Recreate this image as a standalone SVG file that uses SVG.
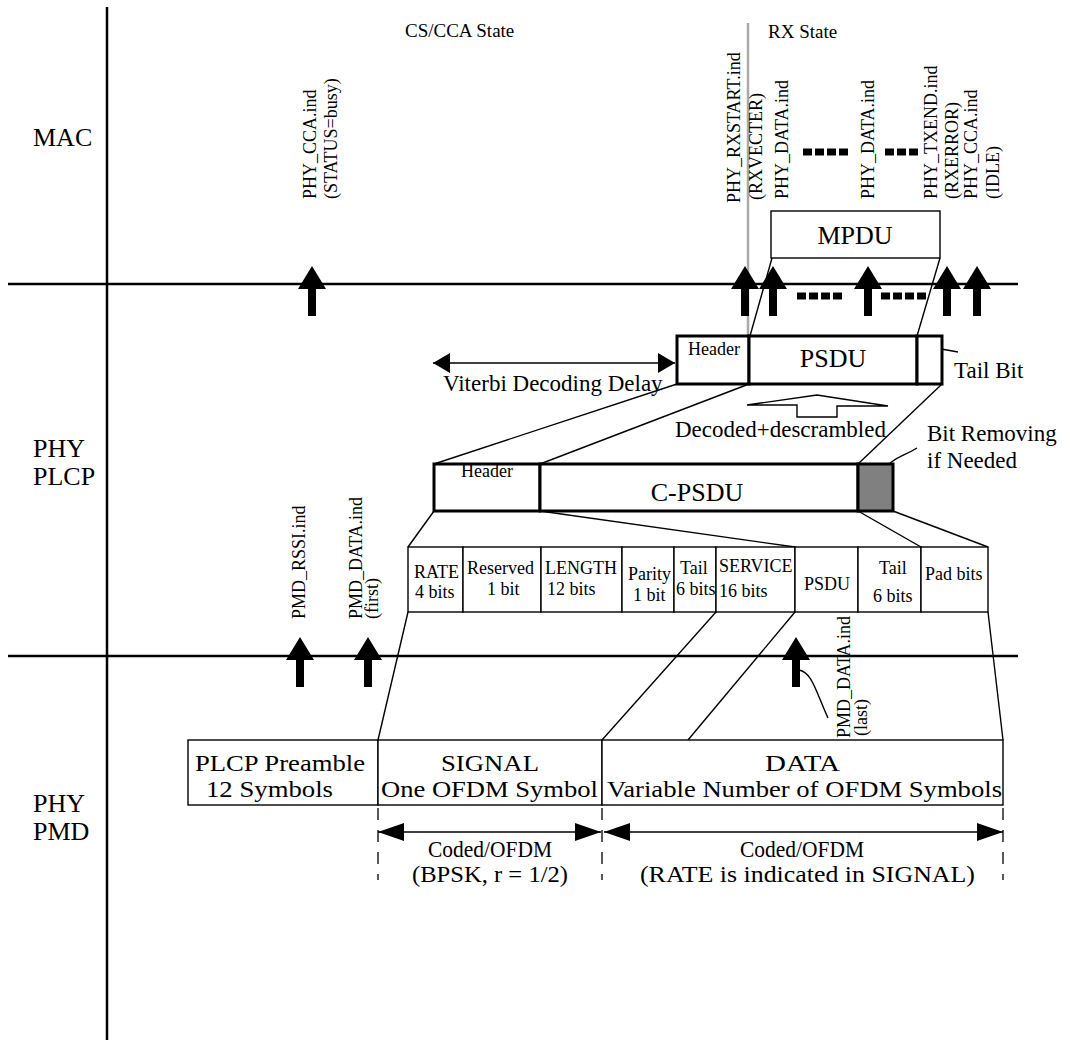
<svg xmlns="http://www.w3.org/2000/svg" xmlns:xlink="http://www.w3.org/1999/xlink" width="1070" height="1042" viewBox="0 0 1070 1042">
<style>
.t{font-family:"Liberation Serif","Times New Roman",serif;fill:#000}
.s18{font-size:18px}
.s19{font-size:19px}
.s23{font-size:23px}
.s24{font-size:24px}
.s26{font-size:26px}
.axis{stroke:#000;stroke-width:2.5;fill:none}
.ln{stroke:#000;stroke-width:1.4;fill:none}
.box{fill:#fff;stroke:#000;stroke-width:1.4}
.tbox{fill:#fff;stroke:#000;stroke-width:3}
.dots{stroke:#000;stroke-width:7;stroke-dasharray:9 3;fill:none}
.dash{stroke:#000;stroke-width:1.3;stroke-dasharray:12 10;fill:none}
</style>
<defs>
<path id="up" d="M0,0 L14,23 L4,23 L4,50 L-4,50 L-4,23 L-14,23 Z" fill="#000"/>
<marker id="ah1" viewBox="0 0 17 20" refX="17" refY="10" markerWidth="17" markerHeight="20" markerUnits="userSpaceOnUse" orient="auto-start-reverse"><path d="M0,0 L17,10 L0,20 Z" fill="#000"/></marker>
<marker id="ah2" viewBox="0 0 26 18" refX="26" refY="9" markerWidth="26" markerHeight="18" markerUnits="userSpaceOnUse" orient="auto-start-reverse"><path d="M0,0 L26,9 L0,18 Z" fill="#000"/></marker>
</defs>
<rect width="1070" height="1042" fill="#fff"/>

<g id="axes">
<line class="axis" x1="107" y1="7" x2="107" y2="1040"/>
<line class="axis" x1="8" y1="284" x2="1018" y2="284"/>
<line class="axis" x1="8" y1="656" x2="1018" y2="656"/>
<line x1="748" y1="23" x2="748" y2="336" stroke="#aaa" stroke-width="2.5"/>
</g>

<g id="layer-labels" class="t s26">
<text x="33" y="146">MAC</text>
<text x="33" y="457">PHY</text>
<text x="33" y="485">PLCP</text>
<text x="33" y="812">PHY</text>
<text x="33" y="840">PMD</text>
</g>

<g id="state-labels" class="t s19">
<text x="405" y="37">CS/CCA State</text>
<text x="768" y="38">RX State</text>
</g>

<g id="connectors">
<line class="ln" x1="772" y1="258" x2="750" y2="336"/>
<line class="ln" x1="940" y1="258" x2="917" y2="336"/>
<line class="ln" x1="677" y1="384" x2="434" y2="464"/>
<line class="ln" x1="749" y1="384" x2="540" y2="464"/>
<line class="ln" x1="942" y1="384" x2="858" y2="464"/>
<line class="ln" x1="434" y1="511" x2="408" y2="547"/>
<line class="ln" x1="540" y1="511" x2="795" y2="547"/>
<line class="ln" x1="858" y1="511" x2="921" y2="547"/>
<line class="ln" x1="893" y1="511" x2="988" y2="547"/>
<line class="ln" x1="408" y1="612" x2="378" y2="740"/>
<line class="ln" x1="716" y1="612" x2="602" y2="740"/>
<line class="ln" x1="795" y1="612" x2="688" y2="740"/>
<line class="ln" x1="988" y1="612" x2="1003" y2="740"/>
<line class="ln" x1="433" y1="363" x2="675" y2="363" marker-start="url(#ah1)" marker-end="url(#ah1)"/>
<line class="ln" x1="378" y1="832" x2="601" y2="832" marker-start="url(#ah2)" marker-end="url(#ah2)"/>
<line class="ln" x1="604" y1="832" x2="1003" y2="832" marker-start="url(#ah2)" marker-end="url(#ah2)"/>
<line class="dash" x1="378" y1="808" x2="378" y2="880"/>
<line class="dash" x1="602" y1="808" x2="602" y2="880"/>
<line class="dash" x1="1003" y1="808" x2="1003" y2="880"/>
<line class="ln" x1="930" y1="347" x2="958" y2="352"/>
<path class="ln" d="M890,463 C900,455 906,455 917,448"/>
<path class="ln" d="M799,670 C812,672 816,692 828,718"/>
<polygon class="ln" points="747,405 817,395 888,406 837,406 837,417 797,417 797,405"/>
</g>

<g id="primitive-arrows">
<use xlink:href="#up" x="312" y="266"/>
<use xlink:href="#up" x="745" y="266"/>
<use xlink:href="#up" x="773" y="266"/>
<use xlink:href="#up" x="868" y="266"/>
<use xlink:href="#up" x="947" y="266"/>
<use xlink:href="#up" x="977" y="266"/>
<use xlink:href="#up" x="300" y="637"/>
<use xlink:href="#up" x="368" y="637"/>
<use xlink:href="#up" x="796" y="637"/>
<line class="dots" x1="803" y1="152" x2="848" y2="152"/>
<line class="dots" x1="885" y1="152" x2="921" y2="152"/>
<line class="dots" x1="797" y1="296" x2="845" y2="296"/>
<line class="dots" x1="881" y1="296" x2="929" y2="296"/>
</g>

<g id="primitive-labels" class="t s18">
<text transform="translate(316,199) rotate(-90)">PHY_CCA.ind</text>
<text transform="translate(337,199) rotate(-90)">(STATUS=busy)</text>
<text transform="translate(740,203) rotate(-90)">PHY_RXSTART.ind</text>
<text transform="translate(762,200) rotate(-90)">(RXVECTER)</text>
<text transform="translate(788,199) rotate(-90)">PHY_DATA.ind</text>
<text transform="translate(874,199) rotate(-90)">PHY_DATA.ind</text>
<text transform="translate(937,199) rotate(-90)">PHY_TXEND.ind</text>
<text transform="translate(958,199) rotate(-90)">(RXERROR)</text>
<text transform="translate(977,199) rotate(-90)">PHY_CCA.ind</text>
<text transform="translate(999,199) rotate(-90)">(IDLE)</text>
<text transform="translate(305,619) rotate(-90)">PMD_RSSI.ind</text>
<text transform="translate(362,619) rotate(-90)">PMD_DATA.ind</text>
<text transform="translate(378,619) rotate(-90)">(first)</text>
<text transform="translate(850,738) rotate(-90)">PMD_DATA.ind</text>
<text transform="translate(867,736) rotate(-90)">(last)</text>
</g>

<g id="mpdu">
<rect class="box" x="771" y="211" width="169" height="47" stroke-width="2"/>
<text class="t s26" x="855" y="244" text-anchor="middle">MPDU</text>
</g>

<g id="psdu-row">
<rect class="tbox" x="677" y="336" width="72" height="48"/>
<rect class="tbox" x="749" y="336" width="168" height="48"/>
<rect class="tbox" x="917" y="336" width="25" height="48"/>
<text class="t s18" x="688" y="355">Header</text>
<text class="t s26" x="833" y="367" text-anchor="middle">PSDU</text>
</g>

<g id="cpsdu-row">
<rect class="tbox" x="434" y="464" width="106" height="47"/>
<rect class="tbox" x="540" y="464" width="318" height="47"/>
<rect x="858" y="464" width="35" height="47" fill="#808080" stroke="#000" stroke-width="3"/>
<text class="t s18" x="487" y="477" text-anchor="middle">Header</text>
<text class="t s26" x="697" y="501" text-anchor="middle">C-PSDU</text>
</g>

<g id="fields-row" class="t s18">
<rect class="box" x="408" y="547" width="55" height="65"/>
<rect class="box" x="463" y="547" width="78" height="65"/>
<rect class="box" x="541" y="547" width="81" height="65"/>
<rect class="box" x="622" y="547" width="52" height="65"/>
<rect class="box" x="674" y="547" width="42" height="65"/>
<rect class="box" x="716" y="547" width="79" height="65"/>
<rect class="box" x="795" y="547" width="63" height="65"/>
<rect class="box" x="858" y="547" width="63" height="65"/>
<rect class="box" x="921" y="547" width="67" height="65"/>
<text x="414" y="578">RATE</text><text x="415" y="598">4 bits</text>
<text x="467" y="574">Reserved</text><text x="487" y="595">1 bit</text>
<text x="545" y="574">LENGTH</text><text x="547" y="595">12 bits</text>
<text x="628" y="580">Parity</text><text x="633" y="601">1 bit</text>
<text x="680" y="574">Tail</text><text x="676" y="595">6 bits</text>
<text x="719" y="572">SERVICE</text><text x="719" y="597">16 bits</text>
<text x="804" y="590">PSDU</text>
<text x="879" y="574">Tail</text><text x="873" y="602">6 bits</text>
<text x="925" y="580">Pad bits</text>
</g>

<g id="pmd-row" class="t s24">
<rect class="box" x="188" y="740" width="190" height="65"/>
<rect class="box" x="378" y="740" width="224" height="65"/>
<rect class="box" x="602" y="740" width="401" height="65"/>
<text x="195" y="771" textLength="170" lengthAdjust="spacingAndGlyphs">PLCP Preamble</text>
<text x="206" y="797" textLength="127" lengthAdjust="spacingAndGlyphs">12 Symbols</text>
<text x="441" y="771" textLength="98" lengthAdjust="spacingAndGlyphs">SIGNAL</text>
<text x="381" y="797" textLength="217" lengthAdjust="spacingAndGlyphs">One OFDM Symbol</text>
<text x="765" y="771" textLength="75" lengthAdjust="spacingAndGlyphs">DATA</text>
<text x="607" y="797" textLength="395" lengthAdjust="spacingAndGlyphs">Variable Number of OFDM Symbols</text>
</g>

<g id="annotations" class="t s23">
<text x="443" y="391">Viterbi Decoding Delay</text>
<text x="675" y="437">Decoded+descrambled</text>
<text x="954" y="378">Tail Bit</text>
<text x="927" y="441">Bit Removing</text>
<text x="927" y="468">if Needed</text>
</g>

<g id="coding-labels" class="t s23">
<text x="428" y="857" textLength="124" lengthAdjust="spacingAndGlyphs">Coded/OFDM</text>
<text x="412" y="882" textLength="156" lengthAdjust="spacingAndGlyphs">(BPSK, r = 1/2)</text>
<text x="740" y="857" textLength="124" lengthAdjust="spacingAndGlyphs">Coded/OFDM</text>
<text x="640" y="882" textLength="335" lengthAdjust="spacingAndGlyphs">(RATE is indicated in SIGNAL)</text>
</g>
</svg>
